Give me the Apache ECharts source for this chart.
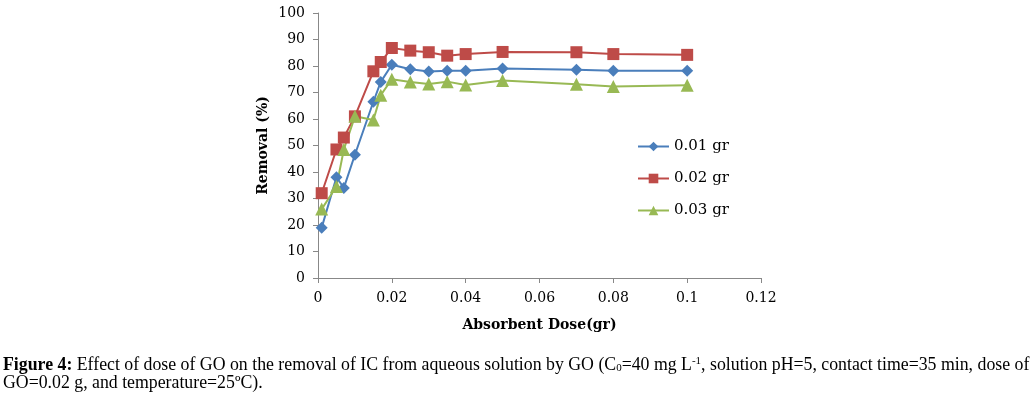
<!DOCTYPE html>
<html>
<head>
<meta charset="utf-8">
<script src="https://cdn.jsdelivr.net/npm/echarts@6/dist/echarts.min.js"></script>
<style>
  html, body { margin: 0; padding: 0; background: #fff; }
  #chart { width: 1033px; height: 398px; }
</style>
</head>
<body>
<div id="chart"></div>
<script>
var doses = [0.001, 0.005, 0.007, 0.01, 0.015, 0.017, 0.02, 0.025, 0.03, 0.035, 0.04, 0.05, 0.07, 0.08, 0.1];
var gr001 = [19, 38, 34, 46.5, 66.5, 74, 80.5, 78.8, 77.9, 78.2, 78.2, 79.1, 78.6, 78.2, 78.2];
var gr002 = [32, 48.5, 53, 61, 78, 81.5, 86.8, 85.8, 85.2, 83.9, 84.5, 85.3, 85.2, 84.5, 84.2];
var gr003 = [26, 34.5, 48.5, 61, 59.6, 69, 75, 74, 73.2, 74.1, 72.8, 74.5, 73.1, 72.3, 72.7];
var seriesNames = ['0.01 gr', '0.02 gr', '0.03 gr'];

function pairs(ys) {
    return doses.map(function (d, i) { return [d, ys[i]]; });
}

var serif = '"DejaVu Serif", serif';
var times = '"Liberation Serif", serif';
var mychart = echarts.init(document.getElementById('chart'));

var option = {
    animation: false,
    grid: { left: 318, right: 272, top: 13, bottom: 120 },
    legend: {
        orient: 'vertical',
        left: 637,
        top: 139,
        padding: 0,
        itemWidth: 31,
        itemHeight: 12,
        itemGap: 17,
        textStyle: { fontFamily: serif, fontSize: 15, color: '#000' },
        data: seriesNames
    },
    xAxis: {
        type: 'value',
        min: 0, max: 0.12, interval: 0.02,
        name: 'Absorbent Dose(gr)',
        nameLocation: 'middle',
        nameGap: 40,
        nameTextStyle: { fontFamily: serif, fontSize: 14, fontWeight: 'bold', color: '#000' },
        axisLine: { show: true, lineStyle: { color: '#888', width: 1 } },
        axisTick: { show: true, length: 5, lineStyle: { color: '#888' } },
        axisLabel: { fontFamily: serif, fontSize: 14, color: '#000', margin: 13 },
        splitLine: { show: false }
    },
    yAxis: {
        type: 'value',
        min: 0, max: 100, interval: 10,
        name: 'Removal (%)',
        nameLocation: 'middle',
        nameRotate: 90,
        nameGap: 48,
        nameTextStyle: { fontFamily: serif, fontSize: 14, fontWeight: 'bold', color: '#000' },
        axisLine: { show: true, lineStyle: { color: '#888', width: 1 } },
        axisTick: { show: true, length: 5, lineStyle: { color: '#888' } },
        axisLabel: { fontFamily: serif, fontSize: 14, color: '#000', margin: 13 },
        splitLine: { show: false }
    },
    series: [
        {
            name: seriesNames[0], type: 'line', data: pairs(gr001),
            symbol: 'diamond', symbolSize: 12,
            itemStyle: { color: '#4A7EBB' },
            lineStyle: { color: '#4A7EBB', width: 2 }
        },
        {
            name: seriesNames[1], type: 'line', data: pairs(gr002),
            symbol: 'rect', symbolSize: 12,
            itemStyle: { color: '#BE4B48' },
            lineStyle: { color: '#BE4B48', width: 2 }
        },
        {
            name: seriesNames[2], type: 'line', data: pairs(gr003),
            symbol: 'triangle', symbolSize: 13,
            itemStyle: { color: '#98B954' },
            lineStyle: { color: '#98B954', width: 2 }
        }
    ],
    graphic: [
        {
            type: 'text',
            left: 3,
            top: 352,
            style: {
                text: '{b|Figure 4:} Effect of dose of GO on the removal of IC from aqueous solution by GO (C{sub|0}=40 mg L{sup|-1}, solution pH=5, contact time=35 min, dose of\nGO=0.02 g, and temperature=25ºC).',
                fontFamily: times,
                fontSize: 17.8,
                lineHeight: 18,
                fill: '#000',
                rich: {
                    b: { fontFamily: times, fontSize: 17.8, fontWeight: 'bold', lineHeight: 18 },
                    sub: { fontFamily: times, fontSize: 11, verticalAlign: 'bottom', lineHeight: 18, padding: [11, 0, 0, 0] },
                    sup: { fontFamily: times, fontSize: 11, verticalAlign: 'top', lineHeight: 18, padding: [0, 0, 9, 0] }
                }
            }
        }
    ]
};
mychart.setOption(option);
</script>
</body>
</html>
